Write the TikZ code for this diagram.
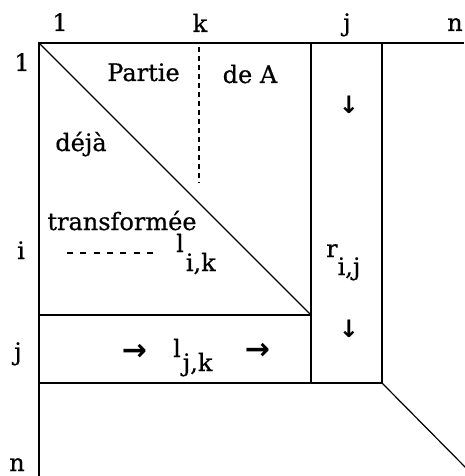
\documentclass[tikz,border=0pt]{standalone}
\usepackage{fontspec}
\setmainfont{DejaVu Serif}[FakeBold=0.6]
\newfontfamily\arrowfont{DejaVu Sans}
\begin{document}
\begin{tikzpicture}[x=1pt,y=-1pt,
  frame/.style={line width=1.8pt},
  thin diag/.style={line width=1.2pt},
  lbl/.style={inner sep=0pt,anchor=base,font=\fontsize{24}{28}\selectfont},
  arr/.style={inner sep=0pt,anchor=center,font=\arrowfont\bfseries\fontsize{30}{34}\selectfont},
  darr/.style={inner sep=0pt,anchor=center,font=\arrowfont\bfseries\fontsize{24}{28}\selectfont}]
\useasboundingbox (0,0) rectangle (464,476);
% frame coordinates
\coordinate (TL) at (39,43);
\coordinate (TR) at (464,43);
\coordinate (BL) at (39,476);
\coordinate (C1t) at (311,43);
\coordinate (C1b) at (311,383);
\coordinate (C2t) at (382,43);
\coordinate (C2b) at (382,383);
\coordinate (R1l) at (39,315);
\coordinate (R1r) at (311,315);
\coordinate (R2l) at (39,383);
\coordinate (D2e) at (470,472);
\draw[frame] (38,43) -- (TR);
\draw[frame] (TL) -- (BL);
\draw[frame] (C1t) -- (C1b);
\draw[frame] (C2t) -- (C2b);
\draw[frame] (R1l) -- (R1r);
\draw[frame] (R2l) -- (C2b);
\draw[thin diag] (TL) -- (R1r);
\draw[thin diag] (C2b) -- (D2e);
% dashed lines
\coordinate (Kt) at (199,47);
\coordinate (Kb) at (199,183);
\draw[line width=1.5pt, dash pattern=on 5pt off 4pt] (Kt) -- (Kb);
\coordinate (Il) at (67,253);
\coordinate (Ir) at (157,253);
\draw[line width=1.3pt, dash pattern=on 6pt off 7.3pt] (Il) -- (Ir);
% axis labels
\node[lbl] (t1) at (60,31) {1};
\node[lbl] (tk) at (200,32) {k};
\node[lbl] (tj) at (347,31) {j};
\node[lbl] (tn) at (455,31) {n};
\node[lbl] (l1) at (22,71) {1};
\node[lbl] (li) at (21,259) {i};
\node[lbl] (lj) at (18,360) {j};
\node[lbl] (ln) at (17,471) {n};
% texts
\node[lbl] (partie) at (143.5,81) {Partie};
\node[lbl] (deA) at (250,83) {de A};
\node[lbl] (deja) at (81,151) {déjà};
\node[lbl] (transf) at (122,230) {transformée};
\node[lbl,anchor=base west] (lik) at (176,252) {l\kern2pt\raisebox{-19pt}{i,k}};
\node[lbl,anchor=base west] (rij) at (326,257) {r\raisebox{-18pt}{i,j}};
\node[lbl,anchor=base west] (ljk) at (173,357) {l\kern2pt\raisebox{-14pt}{j,k}};
\node[darr] (d1) at (349,104.5) {↓};
\node[darr] (d2) at (349,329) {↓};
\node[arr] (a1) at (134.5,352.5) {→};
\node[arr] (a2) at (257.5,351) {→};
\end{tikzpicture}
\end{document}
